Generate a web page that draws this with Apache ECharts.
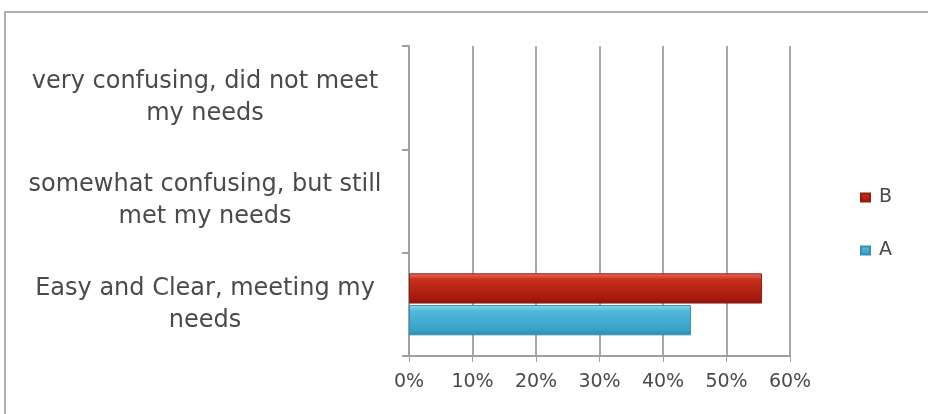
<!DOCTYPE html>
<html><head><meta charset="utf-8">
<script src="https://cdn.jsdelivr.net/npm/echarts@6/dist/echarts.min.js"></script>
<style>html,body{margin:0;padding:0;background:#fff}#c{width:928px;height:414px}</style>
</head><body><div id="c"></div>
<script>
const categories = ['Easy and Clear, meeting my\nneeds', 'somewhat confusing, but still\nmet my needs', 'very confusing, did not meet\nmy needs'];
const seriesA = [0.444, 0, 0];
const seriesB = [0.556, 0, 0];
const xTicks = [0, 0.1, 0.2, 0.3, 0.4, 0.5, 0.6];

const hideZero = arr => arr.map(v => (v === 0 ? null : v));
const chart = echarts.init(document.getElementById('c'), null, {renderer: 'canvas'});
const font = 'DejaVu Sans';
const txt = '#4a4a4a';
chart.setOption({
  animation: false,
  backgroundColor: '#fff',
  graphic: [{type: 'rect', shape: {x: 5, y: 12, width: 1000, height: 500}, style: {fill: 'none', stroke: '#b0b0b0', lineWidth: 2}}],
  grid: {left: 409, right: 138, top: 46, bottom: 58, containLabel: false},
  legend: {
    data: ['B', 'A'], orient: 'vertical', left: 855, top: 183,
    itemWidth: 9, itemHeight: 8, itemGap: 34,
    textStyle: {fontFamily: font, fontSize: 19, color: txt, padding: [0,0,0,4]},
    icon: 'rect'
  },
  xAxis: {
    type: 'value', min: xTicks[0], max: xTicks[xTicks.length-1], interval: 0.1,
    axisLine: {show: true, lineStyle: {color: '#a0a0a0', width: 2}},
    axisTick: {show: true, length: 6, lineStyle: {color: '#a0a0a0', width: 1}},
    splitLine: {show: true, lineStyle: {color: '#a8a8a8', width: 2}},
    axisLabel: {formatter: v => Math.round(v*100) + '%', fontFamily: font, fontSize: 19, color: txt, margin: 17}
  },
  yAxis: {
    type: 'category', data: categories,
    axisLine: {show: true, lineStyle: {color: '#a0a0a0', width: 2}},
    axisTick: {show: true, length: 7, lineStyle: {color: '#a0a0a0', width: 2}},
    axisLabel: {fontFamily: font, fontSize: 24, color: txt, align: 'center', margin: 204, lineHeight: 32}
  },
  series: [
    {name: 'B', type: 'bar', data: hideZero(seriesB), barCategoryGap: '40%', barGap: '5%',
     itemStyle: {color: new echarts.graphic.LinearGradient(0,0,0,1,[{offset:0,color:'#f07060'},{offset:0.2,color:'#c8301e'},{offset:0.8,color:'#a81a0c'},{offset:1,color:'#8a1408'}]), borderColor: '#8a2010', borderWidth: 1},
     color: '#b02012'},
    {name: 'A', type: 'bar', data: hideZero(seriesA), barCategoryGap: '40%', barGap: '5%',
     itemStyle: {color: new echarts.graphic.LinearGradient(0,0,0,1,[{offset:0,color:'#8fdcf2'},{offset:0.2,color:'#4fb8da'},{offset:0.8,color:'#3aa3c8'},{offset:1,color:'#2d8aae'}]), borderColor: '#3a8fae', borderWidth: 1},
     color: '#3aa8cc'}
  ]
});
</script></body></html>
